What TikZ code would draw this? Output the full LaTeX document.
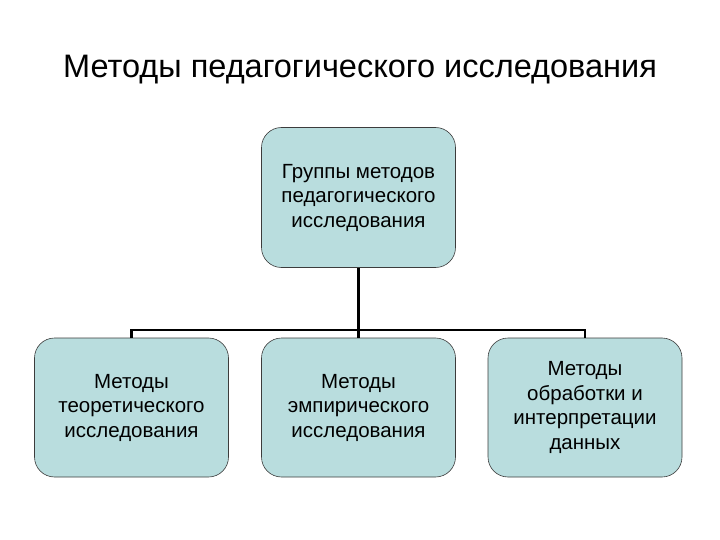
\documentclass[tikz,border=0pt]{standalone}
\usepackage{fontspec}
\setmainfont{Liberation Sans}
\definecolor{boxfill}{RGB}{185,221,222}
\definecolor{boxline}{RGB}{60,60,60}
\begin{document}
\begin{tikzpicture}[x=1pt,y=-1pt,
  box/.style={draw=boxline, line width=0.6pt, fill=boxfill, rounded corners=20pt,
    minimum width=194pt, minimum height=140pt, align=center, inner sep=2pt,
    font=\fontsize{20.5}{24.5}\selectfont},
  conn/.style={line width=2.2pt, black}]
\useasboundingbox (0,0) rectangle (720,540);
\node (title) at (360,70) {\fontsize{32.5}{38}\selectfont Методы педагогического исследования};
\node[box] (top) at (358.5,197.5) {Группы методов\\педагогического\\ исследования};
\node[box, minimum height=139pt] (left) at (131.5,407.5) {Методы\\теоретического\\исследования};
\node[box, minimum height=139pt] (mid) at (358.5,407.5) {Методы\\эмпирического\\исследования};
\node[box, minimum height=139pt] (right) at (585,407.5) {Методы\\обработки и\\интерпретации\\данных};
\coordinate (bus) at (358.5,330);
\draw[conn] (top.south) -- (mid.north);
\draw[conn] (left.north) -- (left.north |- bus) -- (right.north |- bus) -- (right.north);
\end{tikzpicture}
\end{document}
